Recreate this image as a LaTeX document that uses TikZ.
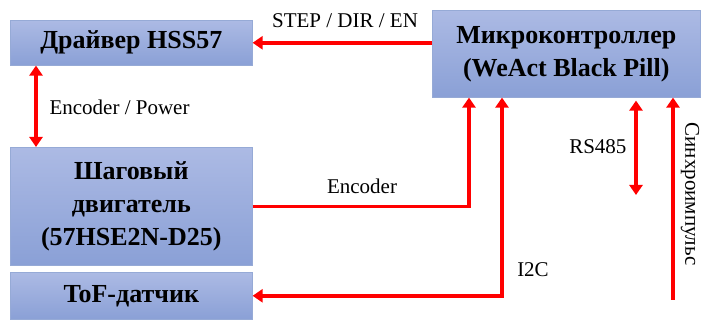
\documentclass[tikz,border=0pt]{standalone}
\usepackage{fontspec}
\setmainfont{Liberation Serif}
\usetikzlibrary{arrows.meta, positioning, calc}
\definecolor{colBoxTop}{RGB}{172,186,228}
\definecolor{colBoxBot}{RGB}{138,160,214}
\definecolor{colBorder}{RGB}{150,170,214}
\definecolor{colArrow}{RGB}{255,0,0}
\tikzset{
  box/.style={
    rectangle, draw=colBorder, line width=0.6pt,
    top color=colBoxTop, bottom color=colBoxBot,
    align=center, inner sep=2pt, anchor=north west,
    font=\fontsize{26}{33}\selectfont\bfseries
  },
  arr/.style={
    -{Triangle[length=10pt,width=13pt]}, line width=3.5pt, color=colArrow
  },
  dblarr/.style={
    arr, {Triangle[length=10pt,width=13pt]}-{Triangle[length=10pt,width=13pt]}
  },
  lbl/.style={
    font=\fontsize{21}{24}\selectfont, text=black
  }
}

\begin{document}
\begin{tikzpicture}[x=1pt,y=-1pt]
  \useasboundingbox (0,0) rectangle (702,320);

  % blocks
  \node[box, minimum width=242pt, minimum height=45pt] (driver) at (10,20) {Драйвер HSS57};
  \node[box, minimum width=268pt, minimum height=87pt] (mcu) at (432,10) {Микроконтроллер\\(WeAct Black Pill)};
  \node[box, minimum width=242pt, minimum height=118pt] (motor) at (10,147) {Шаговый\\двигатель\\(57HSE2N-D25)};
  \node[box, minimum width=242pt, minimum height=47pt] (tof) at (10,272) {ToF-датчик};

  % free ends
  \coordinate (rsEnd) at (636,195);
  \coordinate (syncEnd) at (673,300);

  % links
  \draw[arr] (mcu.west |- driver.east) -- (driver.east);
  \draw[dblarr] ([xshift=26pt]driver.south west) -- ([xshift=26pt]motor.north west);
  \draw[arr] (motor.east) -| ([xshift=37pt]mcu.south west);
  \draw[dblarr] ([xshift=70pt]mcu.south west) |- (tof.east);
  \draw[dblarr] (rsEnd) -- ([xshift=204pt,yshift=-3pt]mcu.south west);
  \draw[arr] (syncEnd) -- (syncEnd |- mcu.south);

  % signal names
  \node[lbl] (stepLbl) at (345,21) {STEP / DIR / EN};
  \node[lbl, anchor=west] (powLbl) at (46,107) {Encoder / Power};
  \node[lbl] (encLbl) at (362,186) {Encoder};
  \node[lbl] (i2cLbl) at (533,270) {I2C};
  \node[lbl, anchor=east] (rsLbl) at (630,147) {RS485};
  \node[lbl, rotate=-90, inner sep=0pt] (syncLbl) at (690,194) {Синхроимпульс};
\end{tikzpicture}
\end{document}
